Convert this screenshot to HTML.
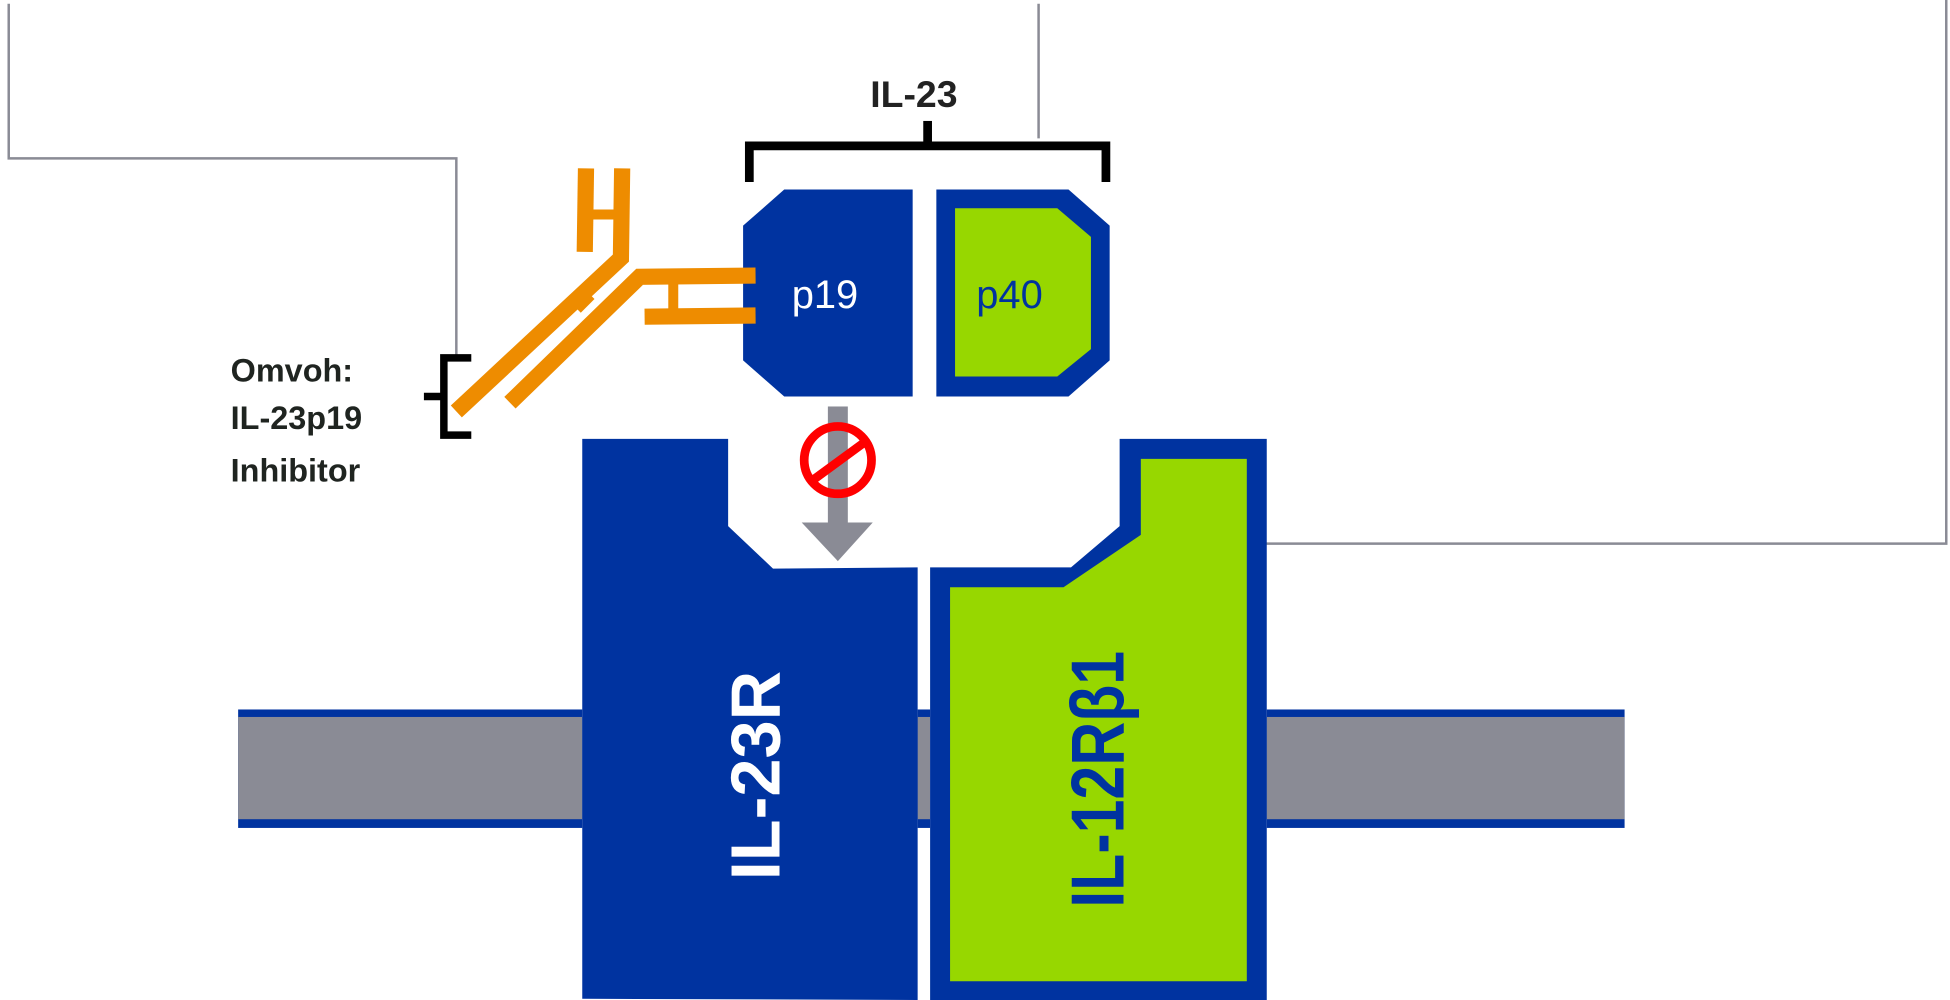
<!DOCTYPE html>
<html><head><meta charset="utf-8"><style>
html,body{margin:0;padding:0;background:#fff;}
svg{display:block;}
</style></head><body>
<svg width="1950" height="1000" viewBox="0 0 1564 802" preserveAspectRatio="none" xmlns="http://www.w3.org/2000/svg">
<rect width="1564" height="802" fill="#fff"/>
<g fill="none" stroke="#8a8b95" stroke-width="2">
<polyline points="7,3 7,127 366,127 366,287"/>
<line x1="833" y1="3" x2="833" y2="111"/>
<polyline points="1561,0 1561,436 1012,436"/>
</g>
<g>
<rect x="191" y="569" width="276" height="95" fill="#0033a0"/>
<rect x="191" y="575" width="276" height="82" fill="#8a8b95"/>
<rect x="736" y="569" width="10" height="95" fill="#0033a0"/>
<rect x="736" y="575" width="10" height="82" fill="#8a8b95"/>
<rect x="1016" y="569" width="287" height="95" fill="#0033a0"/>
<rect x="1016" y="575" width="287" height="82" fill="#8a8b95"/>
</g>
<polygon points="467,352 584,352 584,422 620,456 736,455 736,802 467,801" fill="#0033a0"/>
<polygon points="746,455 859,455 898,422 898,352 1016,352 1016,802 746,803" fill="#0033a0"/>
<polygon points="762,471 853,471 915,429 915,368 1000,368 1000,787 762,787" fill="#97d700"/>
<text transform="translate(625,706) rotate(-90)" font-family="Liberation Sans, sans-serif" font-weight="bold" font-size="56" fill="#fff" textLength="168" lengthAdjust="spacingAndGlyphs">IL-23R</text>
<text transform="translate(901,728) rotate(-90)" font-family="Liberation Sans, sans-serif" font-weight="bold" font-size="60" fill="#0033a0" textLength="206" lengthAdjust="spacingAndGlyphs">IL-12Rβ1</text>
<polygon points="629,152 732,152 732,318 629,318 596,289 596,181" fill="#0033a0"/>
<polygon points="751,152 857,152 890,181 890,289 857,318 751,318" fill="#0033a0"/>
<polygon points="766,167 848,167 875,190 875,280 848,302 766,302" fill="#97d700"/>
<text x="635" y="247" font-family="Liberation Sans, sans-serif" font-size="32" fill="#fff">p19</text>
<text x="783" y="247" font-family="Liberation Sans, sans-serif" font-size="32" fill="#0033a0">p40</text>
<text x="733" y="86" text-anchor="middle" font-family="Liberation Sans, sans-serif" font-weight="bold" font-size="30" fill="#222">IL-23</text>
<polyline points="601,146 601,117 887,117 887,146" fill="none" stroke="#000" stroke-width="7"/>
<line x1="744" y1="97" x2="744" y2="117" stroke="#000" stroke-width="7"/>
<rect x="664" y="326" width="16" height="95" fill="#8a8b95"/>
<polygon points="643,419 700,419 672,450" fill="#8a8b95"/>
<circle cx="672" cy="369" r="27" fill="none" stroke="#ff0000" stroke-width="7"/>
<line x1="652" y1="385" x2="693" y2="355" stroke="#ff0000" stroke-width="7"/>
<g fill="none" stroke="#ee8c00" stroke-width="13" stroke-linejoin="miter">
<polyline points="499,135 498,207 366,330"/>
<line x1="470" y1="135" x2="469" y2="202"/>
<polyline points="606,221 513,222 409,323"/>
<line x1="517" y1="254" x2="606" y2="253"/>
</g>
<g stroke="#ee8c00" stroke-width="8">
<line x1="470" y1="172" x2="499" y2="172"/>
<line x1="540" y1="227" x2="540" y2="249"/>
<line x1="463" y1="248" x2="474" y2="237"/>
<line x1="477" y1="257" x2="488" y2="246"/>
</g>
<polyline points="378,287 356,287 356,349 378,349" fill="none" stroke="#000" stroke-width="6"/>
<line x1="340" y1="318" x2="356" y2="318" stroke="#000" stroke-width="6"/>
<g font-family="Liberation Sans, sans-serif" font-weight="bold" font-size="26" fill="#1f2420">
<text x="185" y="306">Omvoh:</text>
<text x="185" y="344">IL-23p19</text>
<text x="185" y="386">Inhibitor</text>
</g>
</svg>
</body></html>
